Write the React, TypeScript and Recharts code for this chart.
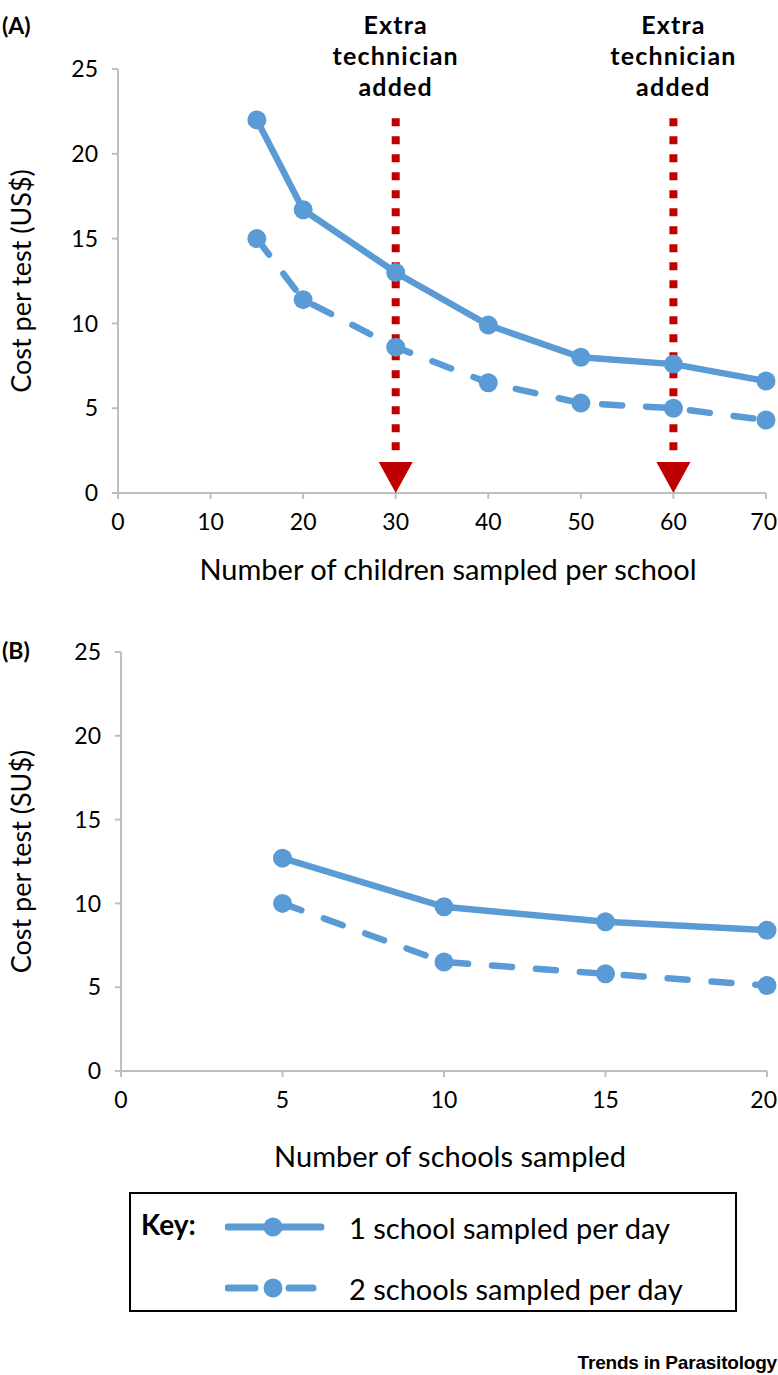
import React from 'react'
import { LineChart, Line, XAxis, YAxis, ReferenceLine, ReferenceDot, Label } from 'recharts'

const childrenPerSchool = [15, 20, 30, 40, 50, 60, 70]
const oneSchoolPerDayA = [22.0, 16.7, 13.0, 9.9, 8.0, 7.6, 6.6]
const twoSchoolsPerDayA = [15.0, 11.4, 8.6, 6.5, 5.3, 5.0, 4.3]

const schoolsSampled = [5, 10, 15, 20]
const oneSchoolPerDayB = [12.7, 9.8, 8.9, 8.4]
const twoSchoolsPerDayB = [10.0, 6.5, 5.8, 5.1]

const technicianAddedAt = [30, 60]
const arrowTop = 22.1
const arrowBase = 2

const costTicks = [0, 5, 10, 15, 20, 25]
const childrenTicks = [0, 10, 20, 30, 40, 50, 60, 70]
const schoolTicks = [0, 5, 10, 15, 20]

const seriesNames = ['1 school sampled per day', '2 schools sampled per day']

const BLUE = '#5b9bd5'
const RED = '#c00000'
const AXIS = '#bfbfbf'
const FONT = 'Lato, "Open Sans", sans-serif'
const TICK_FONT = 23

const dataA = childrenPerSchool.map((x, i) => ({ x, one: oneSchoolPerDayA[i], two: twoSchoolsPerDayA[i] }))
const dataB = schoolsSampled.map((x, i) => ({ x, one: oneSchoolPerDayB[i], two: twoSchoolsPerDayB[i] }))

// x tick that keeps the last label inside the page, like the original where it sits at the edge
const XTick = (props: any) => {
  const { x, y, payload } = props
  const label = String(payload.value)
  const half = (label.length * 0.58 * TICK_FONT) / 2
  const shift = Math.min(0, 777 - (x + half))
  return (
    <text x={x + shift} y={y} dy="0.71em" textAnchor="middle" fontSize={TICK_FONT} fontFamily={FONT} fill="#000">
      {label}
    </text>
  )
}

const xTitle = (text: string, dy: number) => (props: any) => {
  const vb = props.viewBox
  return (
    <text x={vb.x + vb.width / 2 + 6} y={vb.y + dy} textAnchor="middle" dominantBaseline="central"
      fontSize={29} fontFamily={FONT} fill="#000">{text}</text>
  )
}

const yTitle = (text: string) => (props: any) => {
  const vb = props.viewBox
  const cy = vb.y + vb.height / 2
  return (
    <text x={20} y={cy} transform={`rotate(-90 20 ${cy})`} textAnchor="middle" dominantBaseline="central"
      fontSize={27} fontFamily={FONT} fill="#000">{text}</text>
  )
}

const arrowLabel = (props: any) => {
  const vb = props.viewBox
  const lines = ['Extra', 'technician', 'added']
  return (
    <g>
      {lines.map((t, i) => (
        <text key={t} x={vb.x} y={vb.y - 94 + i * 31} textAnchor="middle" dominantBaseline="central"
          fontSize={25} letterSpacing={1.2} fontWeight={700} fontFamily={FONT} fill="#000">{t}</text>
      ))}
    </g>
  )
}

const arrowHead = (props: any) => {
  const { cx, cy } = props
  return <polygon points={`${cx - 17},${cy - 31} ${cx + 17},${cy - 31} ${cx},${cy}`} fill={RED} />
}

const axisProps = {
  axisLine: { stroke: AXIS, strokeWidth: 2 },
  tickLine: { stroke: AXIS, strokeWidth: 2 },
  tickSize: 6,
}
const yTick = { fill: '#000', fontSize: TICK_FONT, fontFamily: FONT }

const renderSeries = () => [
  <Line key="one" dataKey="one" stroke={BLUE} strokeWidth={6.5} isAnimationActive={false}
    dot={{ r: 9.5, fill: BLUE, stroke: BLUE, strokeWidth: 0 }} activeDot={false} />,
  <Line key="two" dataKey="two" stroke={BLUE} strokeWidth={6.5} strokeDasharray="20 24" strokeLinecap="round"
    isAnimationActive={false} dot={{ r: 9.5, fill: BLUE, stroke: BLUE, strokeWidth: 0, strokeDasharray: '' }}
    activeDot={false} />,
]

const LegendBox = () => (
  <div style={{ position: 'absolute', left: 129, top: 1192, width: 604, height: 116, border: '2px solid #000',
    fontFamily: FONT, fontSize: 29, color: '#000' }}>
    <div style={{ position: 'absolute', left: 10, top: 13, fontWeight: 700, fontSize: 28 }}>Key:</div>
    {seriesNames.map((name, i) => (
      <div key={name} style={{ position: 'absolute', left: 94, top: 14 + i * 61, height: 38, display: 'flex', alignItems: 'center' }}>
        <svg width={110} height={38}>
          {i === 0 ? (
            <line x1={3} y1={19} x2={96} y2={19} stroke={BLUE} strokeWidth={7} strokeLinecap="round" />
          ) : (
            <g>
              <line x1={3} y1={19} x2={30} y2={19} stroke={BLUE} strokeWidth={7} strokeLinecap="round" />
              <line x1={64} y1={19} x2={88} y2={19} stroke={BLUE} strokeWidth={7} strokeLinecap="round" />
            </g>
          )}
          <circle cx={48} cy={19} r={9.5} fill={BLUE} />
        </svg>
        <span style={{ marginLeft: 14, whiteSpace: 'nowrap' }}>{name}</span>
      </div>
    ))}
  </div>
)

export default function App() {
  return (
    <div style={{ position: 'absolute', left: 0, top: 0, width: 778, height: 1375, background: '#fff', overflow: 'hidden' }}>
      <div style={{ position: 'absolute', left: 2, top: 11, fontFamily: FONT, fontWeight: 700, fontSize: 23 }}>(A)</div>
      <div style={{ position: 'absolute', left: 0, top: 0 }}>
        <LineChart width={778} height={600} data={dataA} margin={{ top: 69, right: 12, left: 0, bottom: 0 }}>
          <XAxis dataKey="x" type="number" domain={[0, 70]} ticks={childrenTicks} height={107} tickMargin={15}
            tick={<XTick />} {...axisProps}>
            <Label content={xTitle('Number of children sampled per school', 75)} />
          </XAxis>
          <YAxis type="number" domain={[0, 25]} ticks={costTicks} width={118} tickMargin={14} tick={yTick} {...axisProps}>
            <Label content={yTitle('Cost per test (US$)')} />
          </YAxis>
          {renderSeries()}
          {technicianAddedAt.map((x) => (
            <ReferenceLine key={`l${x}`} segment={[{ x, y: arrowTop }, { x, y: arrowBase }]} stroke={RED}
              strokeWidth={8} strokeDasharray="8 10" ifOverflow="visible" label={arrowLabel} />
          ))}
          {technicianAddedAt.map((x) => (
            <ReferenceDot key={`d${x}`} x={x} y={0} r={1} shape={arrowHead} ifOverflow="visible" />
          ))}
        </LineChart>
      </div>
      <div style={{ position: 'absolute', left: 2, top: 636, fontFamily: FONT, fontWeight: 700, fontSize: 23 }}>(B)</div>
      <div style={{ position: 'absolute', left: 0, top: 600 }}>
        <LineChart width={778} height={580} data={dataB} margin={{ top: 52, right: 11, left: 0, bottom: 0 }}>
          <XAxis dataKey="x" type="number" domain={[0, 20]} ticks={schoolTicks} height={109} tickMargin={15}
            tick={<XTick />} {...axisProps}>
            <Label content={xTitle('Number of schools sampled', 84)} />
          </XAxis>
          <YAxis type="number" domain={[0, 25]} ticks={costTicks} width={121} tickMargin={14} tick={yTick} {...axisProps}>
            <Label content={yTitle('Cost per test (SU$)')} />
          </YAxis>
          {renderSeries()}
        </LineChart>
      </div>
      <LegendBox />
      <div style={{ position: 'absolute', right: 1, top: 1352, fontFamily: '"Liberation Sans", Arial, sans-serif',
        fontWeight: 700, fontSize: 19, letterSpacing: -0.2, color: '#000' }}>Trends in Parasitology</div>
    </div>
  )
}
